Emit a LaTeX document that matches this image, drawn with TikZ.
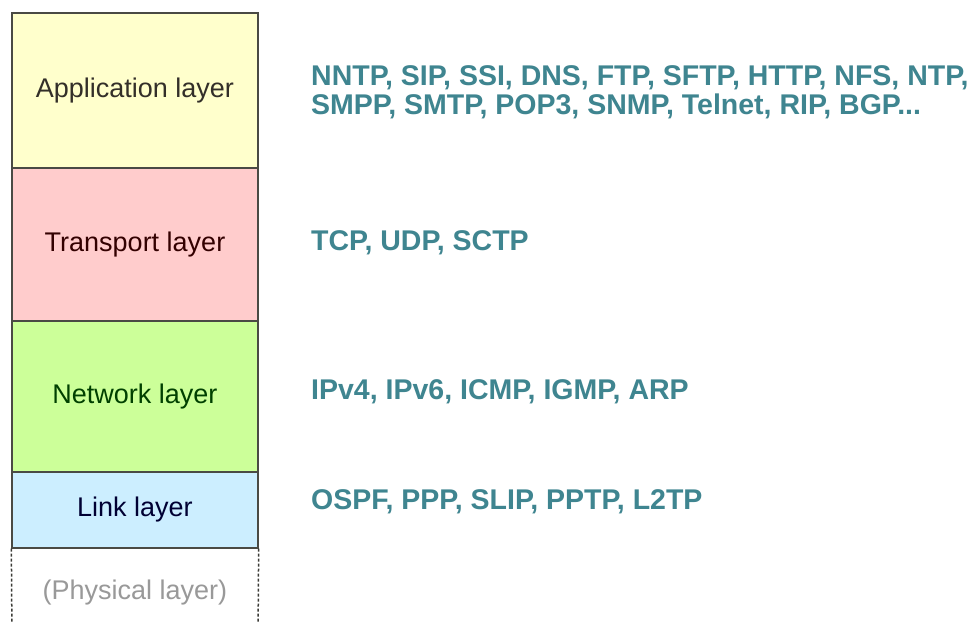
\documentclass[tikz,border=0pt]{standalone}
\usepackage{fontspec}
\setmainfont{Liberation Sans}
\definecolor{appfill}{HTML}{FFFFCC}
\definecolor{trafill}{HTML}{FFCCCC}
\definecolor{netfill}{HTML}{CCFF99}
\definecolor{linkfill}{HTML}{CCEEFF}
\definecolor{protocol}{HTML}{3F8590}
\definecolor{edge}{HTML}{4A4A44}
\tikzset{
  layer/.style={draw=edge,line width=1.3pt,minimum width=246pt,inner sep=0pt,
    font=\fontsize{27}{30}\selectfont},
  proto/.style={anchor=west,align=left,text=protocol,inner sep=0pt,
    font=\fontsize{28.5}{29}\selectfont\bfseries}
}
\begin{document}
\begin{tikzpicture}[x=1pt,y=-1pt]
  \useasboundingbox[fill=white] (0,0) rectangle (976,623);
  % layer stack
  \node[layer,fill=appfill,minimum height=155pt,text=black!85!olive] (app) at (135,90.5) {Application layer};
  \node[layer,fill=trafill,minimum height=153pt,text=black!80!red] (tra) at (135,244.5) {Transport layer};
  \node[layer,fill=netfill,minimum height=151pt,text=black!75!green] (net) at (135,396.5) {Network layer};
  \node[layer,fill=linkfill,minimum height=76pt,text=black!80!blue] (link) at (135,510) {Link layer};
  \draw[edge!80!black,line width=1.5pt,densely dashed] (link.south west)--(12,640) (link.south east)--(258,640); % physical, open below
  \node[text=black!40,font=\fontsize{27}{30}\selectfont] (phys) at (135,593) {(Physical layer)};
  % protocols
  \node[proto] (appP) at (311,92) {NNTP, SIP, SSI, DNS, FTP, SFTP, HTTP, NFS, NTP,\\SMPP, SMTP, POP3, SNMP, Telnet, RIP, BGP...};
  \node[proto] (traP) at (311,243) {TCP, UDP, SCTP};
  \node[proto] (netP) at (311,392) {IPv4, IPv6, ICMP, IGMP, ARP};
  \node[proto] (linkP) at (311,502) {OSPF, PPP, SLIP, PPTP, L2TP};
\end{tikzpicture}
\end{document}
